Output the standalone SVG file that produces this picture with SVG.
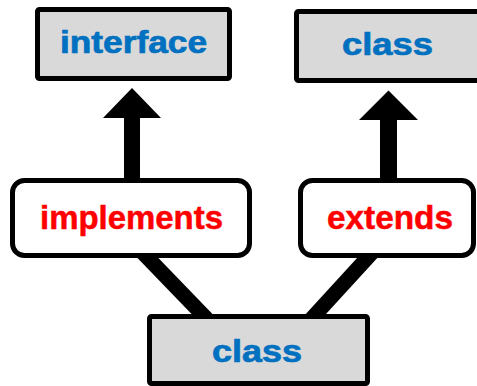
<svg xmlns="http://www.w3.org/2000/svg" width="477" height="386" viewBox="0 0 477 386">
  <style>
    .type rect { fill: #d9d9d9; stroke: #000; stroke-width: 5; }
    .rel rect { fill: #fff; stroke: #000; stroke-width: 5; }
    .type text { font-family: "Liberation Sans", Arial, sans-serif; font-weight: bold; font-size: 31px; fill: #0070c0; stroke: #0070c0; stroke-width: 0.7; text-anchor: middle; }
    .rel text { font-family: "Liberation Sans", Arial, sans-serif; font-weight: bold; font-size: 33px; fill: #ff0000; stroke: #ff0000; stroke-width: 0.5; text-anchor: middle; }
    .arrow { fill: #000; }
    .link { stroke: #000; stroke-width: 15; fill: none; }
  </style>
  <rect width="477" height="386" fill="#fff"/>

  <!-- connectors: inheritance arrows and lines from the subclass -->
  <g id="connectors">
    <polygon class="arrow" points="124,182 124,118 103,118 132,88 161,118 140,118 140,182"/>
    <polygon class="arrow" points="380,182 380,120 359,120 388.5,90.5 418,120 397,120 397,182"/>
    <line class="link" x1="140.2" y1="250" x2="207.8" y2="320"/>
    <line class="link" x1="374.5" y1="250" x2="310.4" y2="320"/>
  </g>

  <!-- nodes -->
  <g id="interface" class="type">
    <rect x="37.5" y="9.5" width="192" height="69" rx="2"/>
    <text x="133.5" y="53" textLength="147" lengthAdjust="spacingAndGlyphs">interface</text>
  </g>
  <g id="superclass" class="type">
    <rect x="296.5" y="11.5" width="190" height="69" rx="2"/>
    <text x="387.5" y="55" textLength="91" lengthAdjust="spacingAndGlyphs">class</text>
  </g>
  <g id="implements" class="rel">
    <rect x="12.5" y="180.5" width="237" height="75" rx="12"/>
    <text x="131.5" y="229" textLength="183" lengthAdjust="spacingAndGlyphs">implements</text>
  </g>
  <g id="extends" class="rel">
    <rect x="300.5" y="180.5" width="173" height="75" rx="12"/>
    <text x="390" y="229" textLength="126" lengthAdjust="spacingAndGlyphs">extends</text>
  </g>
  <g id="subclass" class="type">
    <rect x="149.5" y="316.5" width="218" height="67" rx="2"/>
    <text x="257" y="362" textLength="90" lengthAdjust="spacingAndGlyphs">class</text>
  </g>
</svg>
